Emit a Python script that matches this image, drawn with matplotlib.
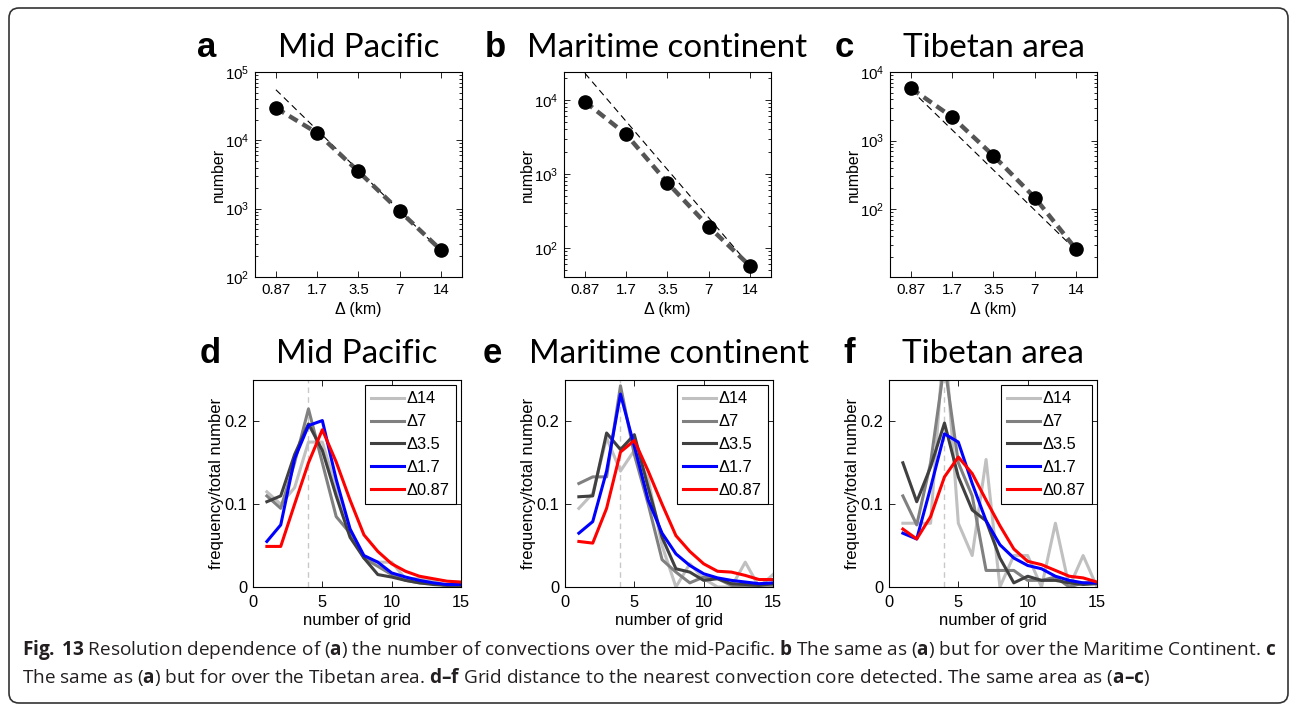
import matplotlib
matplotlib.use('Agg')
import matplotlib.pyplot as plt
from matplotlib.patches import FancyBboxPatch
from matplotlib.transforms import IdentityTransform
from matplotlib.ticker import FixedLocator, NullFormatter, NullLocator, LogLocator

plt.rcParams['mathtext.fontset'] = 'custom'
plt.rcParams['mathtext.rm'] = 'Open Sans'
plt.rcParams['mathtext.bf'] = 'Open Sans:bold'

# ---------------- data ----------------
delta = [0.875, 1.75, 3.5, 7, 14]
delta_labels = ['0.87', '1.7', '3.5', '7', '14']

count_pacific = [29800, 12800, 3500, 920, 247]
count_maritime = [9500, 3430, 760, 194, 57]
count_tibet = [5800, 2200, 600, 147, 26]

# thin reference line, value at 0.87 and at 14
ref_pacific = [55000, 240]
ref_maritime = [23000, 57]
ref_tibet = [5500, 25]

grid_n = list(range(1, 16))
series_labels = ['\u039414', '\u03947', '\u03943.5', '\u03941.7', '\u03940.87']

pac_14 = [0.115, 0.100, 0.120, 0.175, 0.175, 0.120, 0.070, 0.035, 0.030, 0.030, 0.010, 0.010, 0.008, 0.000, 0.003]
pac_7 = [0.110, 0.095, 0.150, 0.215, 0.150, 0.085, 0.065, 0.035, 0.025, 0.015, 0.008, 0.005, 0.004, 0.002, 0.002]
pac_35 = [0.103, 0.110, 0.160, 0.197, 0.165, 0.110, 0.060, 0.035, 0.015, 0.012, 0.008, 0.005, 0.003, 0.002, 0.002]
pac_17 = [0.055, 0.075, 0.155, 0.195, 0.201, 0.130, 0.070, 0.038, 0.030, 0.017, 0.012, 0.008, 0.005, 0.003, 0.003]
pac_087 = [0.049, 0.049, 0.100, 0.150, 0.190, 0.151, 0.105, 0.063, 0.043, 0.028, 0.019, 0.013, 0.010, 0.007, 0.006]

mar_14 = [0.095, 0.113, 0.180, 0.140, 0.165, 0.130, 0.050, 0.000, 0.028, 0.010, 0.000, 0.000, 0.030, 0.000, 0.015]
mar_7 = [0.125, 0.133, 0.133, 0.243, 0.160, 0.100, 0.033, 0.018, 0.005, 0.012, 0.010, 0.002, 0.000, 0.002, 0.002]
mar_35 = [0.109, 0.110, 0.186, 0.166, 0.184, 0.120, 0.060, 0.022, 0.018, 0.008, 0.010, 0.004, 0.003, 0.002, 0.004]
mar_17 = [0.065, 0.079, 0.140, 0.233, 0.170, 0.105, 0.065, 0.040, 0.026, 0.016, 0.011, 0.008, 0.006, 0.004, 0.005]
mar_087 = [0.055, 0.053, 0.095, 0.163, 0.177, 0.140, 0.100, 0.062, 0.043, 0.028, 0.019, 0.018, 0.014, 0.009, 0.009]

tib_14 = [0.077, 0.077, 0.077, 0.308, 0.077, 0.038, 0.154, 0.000, 0.038, 0.038, 0.000, 0.077, 0.000, 0.038, 0.000]
tib_7 = [0.110, 0.075, 0.150, 0.270, 0.150, 0.110, 0.020, 0.020, 0.020, 0.008, 0.008, 0.012, 0.000, 0.005, 0.005]
tib_35 = [0.150, 0.103, 0.145, 0.198, 0.133, 0.093, 0.080, 0.035, 0.005, 0.013, 0.008, 0.008, 0.005, 0.003, 0.004]
tib_17 = [0.065, 0.058, 0.120, 0.185, 0.175, 0.125, 0.080, 0.051, 0.035, 0.026, 0.022, 0.013, 0.008, 0.005, 0.005]
tib_087 = [0.070, 0.058, 0.085, 0.133, 0.157, 0.137, 0.105, 0.074, 0.046, 0.031, 0.027, 0.020, 0.013, 0.011, 0.006]

region_titles = ['Mid Pacific', 'Maritime continent', 'Tibetan area']
top_letters = ['a', 'b', 'c']
bot_letters = ['d', 'e', 'f']

# ---------------- layout helpers ----------------
W, H = 1296, 707
fig = plt.figure(figsize=(W / 100, H / 100), dpi=100)


def fx(px):
    return px / W


def fy(py):
    return 1 - py / H


def rect(left, top, width, bottom):
    return [fx(left), fy(bottom), width / W, (bottom - top) / H]


TF = 'Liberation Sans'
line_colors = ['#c0c0c0', '#808080', '#404040', '#0000ff', '#ff0000']


def style_axes(ax, fs, xpad=4):
    ax.tick_params(which='both', direction='in', top=True, right=True,
                   labelsize=fs, width=0.6)
    ax.tick_params(which='major', length=4, pad=4)
    ax.tick_params(axis='x', which='major', pad=xpad)
    ax.tick_params(which='minor', length=2)
    for s in ax.spines.values():
        s.set_linewidth(0.8)
    for lab in ax.get_xticklabels() + ax.get_yticklabels():
        lab.set_fontfamily(TF)


# ---------------- top row ----------------
top_left = [255, 564, 890]
counts = [count_pacific, count_maritime, count_tibet]
refs = [ref_pacific, ref_maritime, ref_tibet]
ylims = [(100, 1e5), (40.5, 2.39e4), (10.2, 1e4)]
yticks = [[1e2, 1e3, 1e4, 1e5], [1e2, 1e3, 1e4], [1e2, 1e3, 1e4]]

for i in range(3):
    ax = fig.add_axes(rect(top_left[i], 72, 207, 277))
    ax.set_xscale('log')
    ax.set_yscale('log')
    ax.plot([delta[0], delta[-1]], refs[i], color='k', lw=0.8, dashes=(6, 4), zorder=2)
    ax.plot(delta, counts[i], color='#555555', lw=3.2, dashes=(2.2, 1.3), zorder=3)
    ax.plot(delta, counts[i], 'o', color='k', ms=9.5, zorder=4)
    ax.set_xlim(0.616, 19.9)
    ax.set_ylim(*ylims[i])
    ax.xaxis.set_major_locator(FixedLocator(delta))
    ax.set_xticklabels(delta_labels)
    ax.xaxis.set_minor_locator(NullLocator())
    ax.yaxis.set_major_locator(FixedLocator(yticks[i]))
    ax.yaxis.set_minor_locator(LogLocator(subs=range(2, 10)))
    ax.yaxis.set_minor_formatter(NullFormatter())
    style_axes(ax, 10.8)
    ax.set_xlabel('\u0394 (km)', fontsize=11.5, fontfamily=TF)
    ax.set_ylabel('number', fontsize=11.5, fontfamily=TF)
    ax.xaxis.set_label_coords(0.5, -0.12)
    ax.yaxis.set_label_coords(-0.14, 0.5)

# ---------------- bottom row ----------------
bot_left = [253, 565, 889]
bottom_series = [
    [pac_14, pac_7, pac_35, pac_17, pac_087],
    [mar_14, mar_7, mar_35, mar_17, mar_087],
    [tib_14, tib_7, tib_35, tib_17, tib_087],
]
for i in range(3):
    ax = fig.add_axes(rect(bot_left[i], 380, 208, 587))
    ax.axvline(4, color='#c8c8c8', lw=1.0, dashes=(4, 3), zorder=1)
    for vals, col, lab in zip(bottom_series[i], line_colors, series_labels):
        ax.plot(grid_n, vals, color=col, lw=2.2, label=lab, zorder=2)
    ax.set_xlim(0, 15)
    ax.set_ylim(0, 0.25)
    ax.set_xticks([0, 5, 10, 15])
    ax.set_yticks([0, 0.1, 0.2])
    ax.set_yticklabels(['0', '0.1', '0.2'])
    style_axes(ax, 11.8, xpad=6)
    ax.set_xlabel('number of grid', fontsize=12, fontfamily=TF)
    ax.set_ylabel('frequency/total number', fontsize=12, fontfamily=TF)
    ax.xaxis.set_label_coords(0.5, -0.125)
    ax.yaxis.set_label_coords(-0.14, 0.5)
    leg = ax.legend(loc='upper right', prop={'family': TF, 'size': 11.8},
                    frameon=True, fancybox=False, edgecolor='k', framealpha=1,
                    handlelength=2.0, handletextpad=0.15, borderpad=0.4,
                    labelspacing=0.48, borderaxespad=0.3)
    leg.get_frame().set_linewidth(0.8)

# ---------------- titles & letters ----------------
title_objs = []
for i in range(3):
    cx_top = top_left[i] + 207 / 2
    cx_bot = bot_left[i] + 208 / 2
    title_objs.append(fig.text(fx(cx_top), fy(57), region_titles[i], ha='center',
                               va='baseline', fontsize=21, fontfamily='Lato'))
    title_objs.append(fig.text(fx(cx_bot), fy(363), region_titles[i], ha='center',
                               va='baseline', fontsize=21, fontfamily='Lato'))

letter_x_top = [197, 485, 835]
letter_x_bot = [200, 483, 843]
for i in range(3):
    fig.text(fx(letter_x_top[i]), fy(57), top_letters[i], ha='left', va='baseline',
             fontsize=25, fontweight='bold', fontfamily=TF)
    fig.text(fx(letter_x_bot[i]), fy(363), bot_letters[i], ha='left', va='baseline',
             fontsize=25, fontweight='bold', fontfamily=TF)

# ---------------- caption ----------------
cap_line1 = (r"$\mathbf{Fig.\,13}$ Resolution dependence of ($\mathbf{a}$) the number of "
             r"convections over the mid-Pacific. $\mathbf{b}$ The same as ($\mathbf{a}$) "
             r"but for over the Maritime Continent. $\mathbf{c}$")
cap_line2 = (r"The same as ($\mathbf{a}$) but for over the Tibetan area. $\mathbf{d–f}$ "
             r"Grid distance to the nearest convection core detected. The same area as "
             r"($\mathbf{a–c}$)")
cap_color = '#231f20'
c1 = fig.text(fx(22), fy(655), cap_line1, fontsize=12, fontfamily='Open Sans',
              color=cap_color, va='baseline', ha='left')
c2 = fig.text(fx(22), fy(683), cap_line2, fontsize=12, fontfamily='Open Sans',
              color=cap_color, va='baseline', ha='left')

# frame
frame = FancyBboxPatch((9, H - 703), 1279, 695, boxstyle='round,pad=0,rounding_size=10',
                       transform=IdentityTransform(), fill=False, edgecolor='#333333',
                       lw=1.2)
fig.add_artist(frame)

# fit caption and title widths to reference
fig.canvas.draw()
r = fig.canvas.get_renderer()
w1 = c1.get_window_extent(r).width
s = 12 * 1251 / w1
c1.set_fontsize(s)
c2.set_fontsize(s)
tw = title_objs[2].get_window_extent(r).width
ts = 21 * 280 / tw
for t in title_objs:
    t.set_fontsize(ts)

fig.savefig('out.png', dpi=100)
